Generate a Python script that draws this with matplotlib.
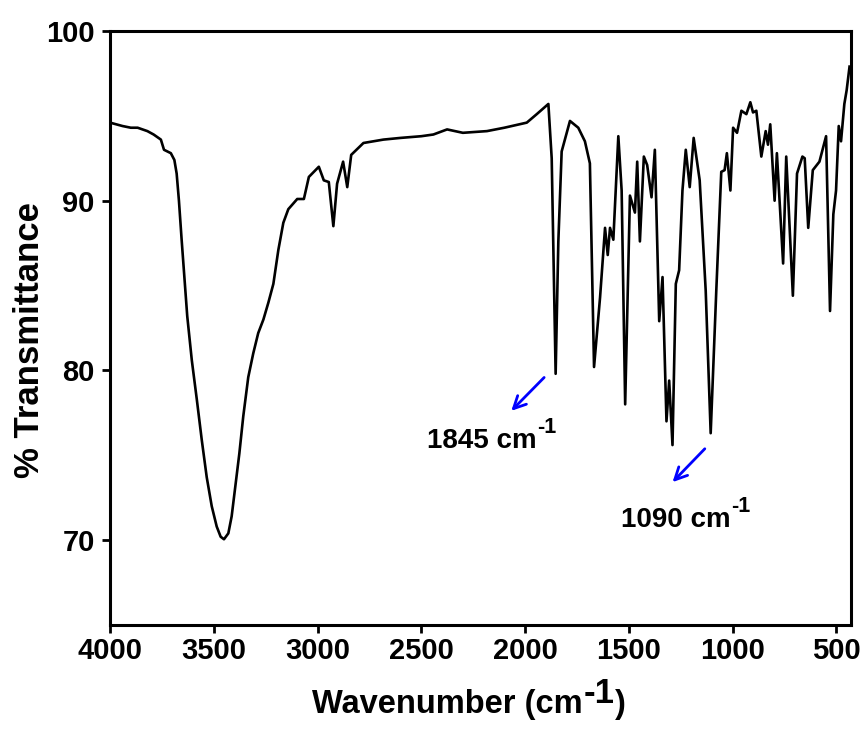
import matplotlib
matplotlib.use("Agg")
import matplotlib.pyplot as plt

plt.rcParams['font.family'] = ['Liberation Sans', 'DejaVu Sans']
plt.rcParams['font.weight'] = 'bold'

# Spectrum (wavenumber, % transmittance)
wavenumber = [4000, 3940, 3900, 3867, 3820, 3790, 3755, 3740, 3707, 3690, 3679, 3668, 3655,
              3643, 3628, 3606, 3582, 3558, 3534, 3510, 3486, 3467, 3451, 3430, 3414, 3398,
              3377, 3358, 3334, 3310, 3286, 3261, 3237, 3213, 3189, 3165, 3141, 3098, 3066,
              3042, 2994, 2970, 2946, 2924, 2906, 2877, 2857, 2838, 2779, 2683, 2600, 2500,
              2442, 2376, 2300, 2184, 2100, 1992, 1944, 1888, 1872, 1853, 1840, 1824, 1784,
              1744, 1712, 1688, 1668, 1639, 1615, 1602, 1591, 1575, 1551, 1535, 1518, 1495,
              1471, 1460, 1447, 1428, 1412, 1391, 1375, 1354, 1338, 1319, 1306, 1290, 1274,
              1258, 1242, 1226, 1207, 1188, 1159, 1130, 1106, 1079, 1055, 1039, 1028, 1011,
              998, 979, 958, 934, 915, 902, 886, 862, 841, 830, 819, 798, 787, 757, 742, 710,
              690, 664, 653, 636, 614, 582, 550, 531, 515, 502, 489, 478, 462, 451, 437]
transmittance = [94.6, 94.4, 94.3, 94.3, 94.1, 93.9, 93.6, 93.0, 92.8, 92.4, 91.6, 90.0, 87.7,
                 85.7, 83.2, 80.6, 78.3, 75.9, 73.7, 72.0, 70.8, 70.2, 70.05, 70.4, 71.4, 73.0,
                 75.1, 77.3, 79.6, 81.0, 82.2, 83.0, 84.0, 85.1, 87.1, 88.7, 89.5, 90.1, 90.1,
                 91.4, 92.0, 91.2, 91.1, 88.5, 91.0, 92.3, 90.8, 92.7, 93.4, 93.6, 93.7, 93.8,
                 93.9, 94.2, 94.0, 94.1, 94.3, 94.6, 95.1, 95.7, 92.5, 79.8, 87.6, 92.9, 94.7,
                 94.3, 93.5, 92.2, 80.2, 84.3, 88.4, 86.8, 88.4, 87.7, 93.8, 90.6, 78.0, 90.3,
                 89.3, 92.3, 87.6, 92.6, 92.1, 90.2, 93.0, 82.9, 85.5, 77.0, 79.4, 75.6, 85.1,
                 85.9, 90.6, 93.0, 90.8, 93.7, 91.2, 84.7, 76.3, 84.7, 91.7, 91.8, 92.8, 90.6,
                 94.3, 94.0, 95.3, 95.1, 95.8, 95.2, 95.3, 92.6, 94.1, 93.3, 94.5, 90.0, 92.8,
                 86.3, 92.6, 84.4, 91.6, 92.6, 92.5, 88.4, 91.8, 92.3, 93.8, 83.5, 89.2, 90.6,
                 94.4, 93.5, 95.7, 96.5, 97.9]

x_ticks = [4000, 3500, 3000, 2500, 2000, 1500, 1000, 500]
y_ticks = [70, 80, 90, 100]

ann_labels = ["1845 cm", "1090 cm"]
ann_arrow_start = [(1899, 79.7), (1125, 75.5)]
ann_arrow_end = [(2076, 77.5), (1299, 73.3)]
ann_text_pos = [(2473, 75.45), (1540, 70.8)]

fig = plt.figure(figsize=(8.65, 7.29), dpi=100)
ax = fig.add_axes([0.1272, 0.1427, 0.8566, 0.8148])

ax.plot(wavenumber, transmittance, color='black', lw=1.9)

ax.set_xlim(4000, 430)
ax.set_ylim(65, 100)
ax.set_xticks(x_ticks)
ax.set_yticks(y_ticks)
ax.tick_params(axis='both', direction='out', length=6, width=2, labelsize=21)
ax.tick_params(axis='x', pad=3)
ax.tick_params(axis='y', pad=5)
for lab in ax.get_xticklabels() + ax.get_yticklabels():
    lab.set_fontweight('bold')
for s in ax.spines.values():
    s.set_linewidth(2.2)

# y label
ax.set_ylabel("% Transmittance", fontsize=25, fontweight='bold')
ax.yaxis.set_label_coords(-0.087, 0.48)

# x label built from pieces: main text, large superscript, closing parenthesis
xl = fig.text(312 / 865, 1 - 713 / 729, "Wavenumber (cm", fontsize=23.5,
              fontweight='bold', ha='left', va='baseline')
xs = ax.annotate("-1", xy=(1, 0), xycoords=xl, xytext=(0.5, 12),
                 textcoords='offset points', fontsize=25, fontweight='bold',
                 ha='left', va='baseline', annotation_clip=False)
ax.annotate(")", xy=(1, 0), xycoords=(xs, xl), xytext=(0.5, 0),
            textcoords='offset points', fontsize=23.5, fontweight='bold',
            ha='left', va='bottom', annotation_clip=False)

for label, start, end, pos in zip(ann_labels, ann_arrow_start, ann_arrow_end, ann_text_pos):
    ax.annotate("", xy=end, xytext=start,
                arrowprops=dict(arrowstyle='->', color='blue', lw=2, mutation_scale=22))
    t = ax.text(pos[0], pos[1], label, fontsize=20, fontweight='bold',
                ha='left', va='baseline')
    ax.annotate("-1", xy=(1, 0), xycoords=t, xytext=(0.5, 15),
                textcoords='offset points', fontsize=15.5, fontweight='bold',
                ha='left', va='baseline')

fig.savefig("out.png", dpi=100)
